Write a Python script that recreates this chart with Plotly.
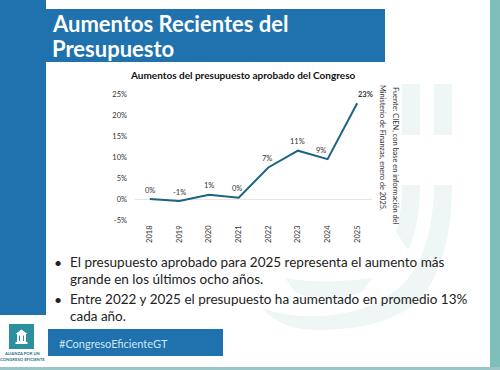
import plotly.graph_objects as go

years = ["2018", "2019", "2020", "2021", "2022", "2023", "2024", "2025"]
increase = [0.0, -0.5, 1.0, 0.3, 7.5, 11.5, 9.5, 22.8]
point_labels = ["0%", "-1%", "1%", "0%", "7%", "11%", "9%", "<b>23%</b>"]
y_ticks = [-5, 0, 5, 10, 15, 20, 25]
y_tick_labels = ["-5%", "0%", "5%", "10%", "15%", "20%", "25%"]
label_dx = [0, 0, 0, -2, -1, 0, -7, 8]

W, H = 500, 370
BLUE = "#1f72ae"
TEAL = "#7fbfb9"
WM = "#eef6f6"
FONT = "Lato"


def px(x):
    return x / W


def py(y):
    return 1 - y / H


def rect(x0, y0, x1, y1, color, layer="below"):
    return dict(type="rect", xref="paper", yref="paper", x0=px(x0), x1=px(x1),
                y0=py(y0), y1=py(y1), fillcolor=color, line=dict(width=0), layer=layer)


def path(d_pts, color, layer="below"):
    s = ""
    for cmd in d_pts:
        if isinstance(cmd, str):
            s += cmd + " "
        else:
            s += f"{px(cmd[0]):.4f},{py(cmd[1]):.4f} "
    return dict(type="path", xref="paper", yref="paper", path=s + "Z",
                fillcolor=color, line=dict(width=0), layer=layer)


shapes = [
    # watermark
    rect(402, 84, 420, 135, WM), rect(434, 84, 452, 135, WM),
    path(["M", (402, 185), "L", (420, 185), "Q", (420, 225), (408, 250), "L", (396, 232), "Q", (402, 212), (402, 185)], WM),
    path(["M", (434, 185), "L", (452, 185), "Q", (452, 260), (420, 300), "Q", (385, 330), (320, 330), "Q", (280, 330), (262, 308),
          "Q", (300, 322), (350, 312), "Q", (400, 300), (420, 260), "Q", (434, 225), (434, 185)], WM),
    path(["M", (285, 278), "Q", (320, 285), (372, 278), "L", (362, 292), "Q", (320, 305), (295, 292)], WM),
    # frame
    rect(0, 0, 46, 315, BLUE),
    rect(46, 9, 385, 62, BLUE),
    rect(490, 0, 500, 370, TEAL),
    rect(0, 367, 500, 370, "#9cc6c6"),
    rect(48, 329, 223, 356, BLUE),
    # logo
    rect(9, 324, 34, 349, "#2b8f9f"),
    rect(17, 334, 26, 342.5, "white", layer="above"),
    path(["M", (15.5, 334), "L", (21.5, 329.5), "L", (27.5, 334)], "white", layer="above"),
    rect(15.5, 342, 27.5, 344, "white", layer="above"),
    rect(19, 335.5, 20, 341, "#2b8f9f", layer="above"),
    rect(23, 335.5, 24, 341, "#2b8f9f", layer="above"),
]


def note(x, y, text, size, color="#222222", xanchor="left", yanchor="middle", angle=0):
    return dict(xref="paper", yref="paper", x=px(x), y=py(y), text=text, showarrow=False,
                xanchor=xanchor, yanchor=yanchor, textangle=angle, align="left",
                font=dict(family=FONT, size=size, color=color))


annotations = [
    note(50, 23, "<b>Aumentos Recientes del</b>", 22, "white"),
    note(50, 49, "<b>Presupuesto</b>", 22, "white"),
    note(242.5, 75, "<b>Aumentos del presupuesto aprobado del Congreso</b>", 10, "#111111", xanchor="center"),
    note(396, 156, "Fuente: CIEN, con base en información del", 7.4, "#333333", xanchor="center", angle=90),
    note(383, 148, "Ministerio de Finanzas, enero de 2025.", 7.4, "#333333", xanchor="center", angle=90),
    note(52, 262, "•", 14),
    note(68, 262, "El presupuesto aprobado para 2025 representa el aumento más", 13.5),
    note(68, 279, "grande en los últimos ocho años.", 13.5),
    note(52, 299, "•", 14),
    note(68, 299, "Entre 2022 y 2025 el presupuesto ha aumentado en promedio 13%", 13.5),
    note(68, 316, "cada año.", 13.5),
    note(57, 343, "#CongresoEficienteGT", 11, "#cfe6f2"),
    note(22, 353, "<b>ALIANZA POR UN</b>", 4.2, "#2a6f8a", xanchor="center"),
    note(22, 359, "<b>CONGRESO EFICIENTE</b>", 4.2, "#2a6f8a", xanchor="center"),
]

for i, (value, label, dx) in enumerate(zip(increase, point_labels, label_dx)):
    annotations.append(dict(xref="x", yref="y", x=i, y=value, text=label, showarrow=False,
                            xshift=dx, yshift=9, xanchor="center", yanchor="middle",
                            font=dict(family=FONT, size=7.5, color="#333333")))

fig = go.Figure(go.Scatter(
    x=years, y=increase, mode="lines",
    line=dict(color="#1c6384", width=2), hoverinfo="skip",
))

fig.update_layout(
    width=W, height=H, margin=dict(l=0, r=0, t=0, b=0), autosize=False,
    paper_bgcolor="white", plot_bgcolor="rgba(0,0,0,0)", showlegend=False,
    shapes=shapes, annotations=annotations,
    xaxis=dict(domain=[px(135), px(372)], type="category", categoryorder="array", categoryarray=years,
               range=[-0.5, 7.5], showgrid=False, zeroline=False, showline=False, ticks="", tickangle=-90,
               automargin=False, tickfont=dict(family=FONT, size=7.5, color="#333333"), anchor="free", position=py(223)),
    yaxis=dict(domain=[py(220), py(94)], range=[-5, 25], tickvals=y_ticks, ticktext=y_tick_labels,
               showgrid=False, zeroline=True, zerolinecolor="#e6e6e6", zerolinewidth=1, showline=False,
               automargin=False, ticks="", tickfont=dict(family=FONT, size=7.5, color="#333333"), ticklabelstandoff=7),
)
fig.write_html("out.html", config={"displayModeBar": False},
               post_script="document.body.style.margin='0';document.documentElement.style.overflow='hidden';")
